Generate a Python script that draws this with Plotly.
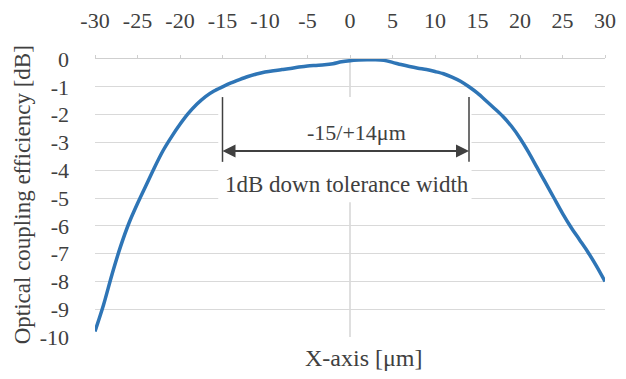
import plotly.graph_objects as go

# Data
x_um = list(range(-30, 31))
eff_db = [-9.8, -8.85, -7.75, -6.75, -5.9, -5.2, -4.55, -3.9, -3.3, -2.8,
          -2.35, -1.95, -1.62, -1.35, -1.15, -1.0, -0.86, -0.74, -0.63, -0.54,
          -0.47, -0.42, -0.38, -0.34, -0.29, -0.25, -0.23, -0.21, -0.17, -0.1,
          -0.06, -0.04, -0.03, -0.03, -0.05, -0.12, -0.2, -0.27, -0.33, -0.38,
          -0.45, -0.53, -0.65, -0.8, -1.0, -1.23, -1.5, -1.78, -2.07, -2.42,
          -2.85, -3.35, -3.9, -4.45, -5.0, -5.55, -6.05, -6.5, -6.95, -7.45, -8.0]

x_ticks = [-30, -25, -20, -15, -10, -5, 0, 5, 10, 15, 20, 25, 30]
x_tick_labels = [str(v) for v in x_ticks]
y_ticks = [0, -1, -2, -3, -4, -5, -6, -7, -8, -9, -10]
y_tick_labels = [str(v) for v in y_ticks]

tol_left = -15
tol_right = 14
tol_label = "-15/+14\u03bcm"
tol_caption = "1dB down tolerance width"

FONT = "'Liberation Serif', 'Times New Roman', 'DejaVu Serif', serif"
TXT = "#404040"
GRID = "#d9d9d9"

fig = go.Figure()
fig.add_trace(go.Scatter(
    x=x_um, y=eff_db, mode="lines",
    line=dict(color="#2e75b6", width=3.5, shape="spline", smoothing=0.8),
    showlegend=False, hoverinfo="skip"))

# vertical x=0 axis line (beneath the annotation box)
fig.add_shape(type="line", xref="x", yref="y", x0=0, x1=0, y0=-10, y1=0,
              line=dict(color="#bfbfbf", width=1), layer="below")
# white box behind annotation (hides grid lines)
fig.add_shape(type="rect", xref="x", yref="y", x0=-15.5, x1=14.3, y0=-5.15, y1=-1.37,
              fillcolor="white", line=dict(width=0), layer="between")
# vertical bars
for xv in (tol_left, tol_right):
    fig.add_shape(type="line", xref="x", yref="y", x0=xv, x1=xv, y0=-1.37, y1=-3.7,
                  line=dict(color="#404040", width=1.5), layer="above")
# double arrow: shaft + two heads
arrow_y = -3.31
fig.add_shape(type="line", xref="x", yref="y", x0=tol_left + 1, x1=tol_right - 1,
              y0=arrow_y, y1=arrow_y, line=dict(color="#404040", width=2), layer="above")
fig.add_annotation(x=tol_right, y=arrow_y, ax=tol_right - 4, ay=arrow_y, axref="x", ayref="y",
                   xref="x", yref="y", showarrow=True, arrowhead=2, arrowsize=1.3,
                   arrowwidth=2, arrowcolor="#404040", text="")
fig.add_annotation(x=tol_left, y=arrow_y, ax=tol_left + 4, ay=arrow_y, axref="x", ayref="y",
                   xref="x", yref="y", showarrow=True, arrowhead=2, arrowsize=1.3,
                   arrowwidth=2, arrowcolor="#404040", text="")
fig.add_annotation(x=0.8, y=-2.66, xref="x", yref="y", text=tol_label, showarrow=False,
                   font=dict(family=FONT, size=22, color=TXT))
fig.add_annotation(x=-0.4, y=-4.53, xref="x", yref="y", text=tol_caption, showarrow=False,
                   font=dict(family=FONT, size=23, color=TXT))

# axis titles
fig.add_annotation(x=0.527, y=-0.0755, xref="paper", yref="paper", text="X-axis [\u03bcm]",
                   showarrow=False, xanchor="center", yanchor="middle",
                   font=dict(family=FONT, size=24, color=TXT))
fig.add_annotation(x=-0.143, y=0.51, xref="paper", yref="paper",
                   text="Optical coupling efficiency [dB]", textangle=-90,
                   xanchor="center", yanchor="middle",
                   showarrow=False, font=dict(family=FONT, size=23, color=TXT))

# page body has an 8px margin, so the figure is sized to fit inside it
fig.update_layout(
    width=610, height=363,
    margin=dict(l=87, r=13, t=51, b=34, autoexpand=False),
    paper_bgcolor="white", plot_bgcolor="white",
    font=dict(family=FONT, size=22, color=TXT),
    xaxis=dict(range=[-30, 30], side="top", tickvals=x_ticks, ticktext=x_tick_labels,
               showgrid=False, zeroline=False, automargin=False,
               showline=True, linecolor="#cfcfcf", linewidth=1,
               ticks="outside", ticklen=3, tickcolor="#cfcfcf",
               ticklabelstandoff=18, tickfont=dict(family=FONT, size=22, color=TXT),
               fixedrange=True),
    yaxis=dict(range=[-10, 0], tickvals=y_ticks, ticktext=y_tick_labels,
               showgrid=True, gridcolor=GRID, gridwidth=1, zeroline=False,
               automargin=False, showline=False, ticks="", ticklabelstandoff=25,
               tickfont=dict(family=FONT, size=22, color=TXT), fixedrange=True),
)

fig.write_html("out.html")
